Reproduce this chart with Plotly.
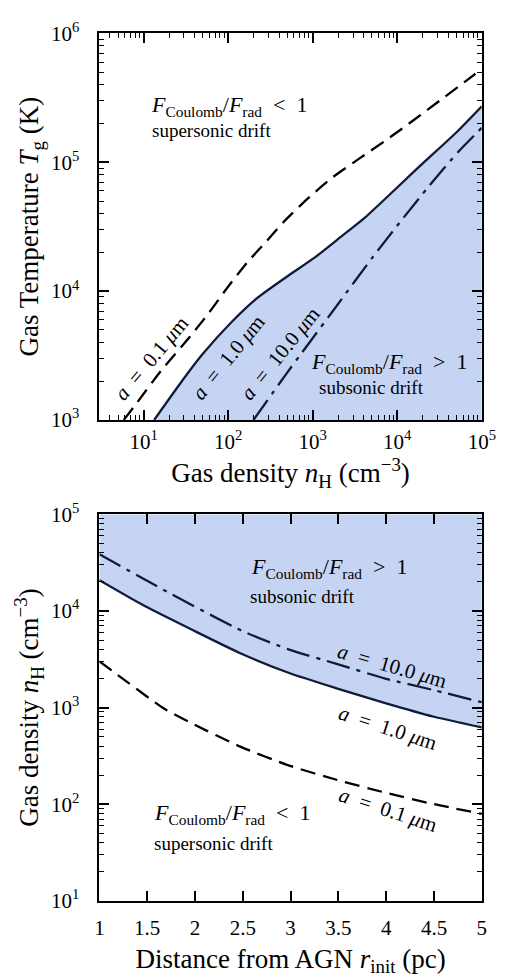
import numpy as np
import plotly.graph_objects as go

# ---------------- Data ----------------
# Top panel: gas temperature T_g (K) vs gas density n_H (cm^-3), log-log (values as log10)
top_a01_logn = [0.765, 0.92, 1.205, 1.547, 1.775, 2.003, 2.231, 2.46, 2.665, 2.927, 3.235, 3.554, 3.885, 4.2, 4.52, 4.83, 5.0]
top_a01_logT = [3.0, 3.132, 3.381, 3.645, 3.834, 4.038, 4.226, 4.392, 4.543, 4.71, 4.883, 5.03, 5.18, 5.33, 5.487, 5.64, 5.725]

top_a1_logn = [1.125, 1.433, 1.696, 2.038, 2.345, 2.722, 3.03, 3.35, 3.61, 4.26, 4.72, 5.0]
top_a1_logT = [3.0, 3.283, 3.509, 3.758, 3.947, 4.125, 4.264, 4.43, 4.566, 4.966, 5.245, 5.434]

top_a10_logn = [2.30, 2.69, 2.87, 3.30, 3.71, 4.05, 4.375, 4.72, 5.0]
top_a10_logT = [3.0, 3.36, 3.52, 3.90, 4.264, 4.55, 4.815, 5.08, 5.268]

# Bottom panel: gas density n_H (cm^-3) vs distance from AGN r_init (pc), lin-log (values as log10)
bot_r_a1 = [1.0, 1.47, 1.98, 2.48, 2.985, 3.49, 3.99, 4.50, 5.0]
bot_a1_logn = [4.318, 4.053, 3.80, 3.56, 3.358, 3.197, 3.046, 2.905, 2.795]

bot_r_a10 = [1.0, 1.64, 2.48, 2.985, 3.49, 3.99, 4.50, 5.0]
bot_a10_logn = [4.587, 4.235, 3.80, 3.60, 3.45, 3.30, 3.18, 3.056]

bot_r_a01 = [1.0, 1.30, 1.675, 1.98, 2.48, 2.985, 3.49, 3.99, 4.50, 5.0]
bot_a01_logn = [3.479, 3.258, 2.99, 2.83, 2.593, 2.40, 2.25, 2.12, 2.0, 1.90]

top_xticks = [10, 100, 1000, 10000, 100000]
top_xtext = ["10<sup>1</sup>", "10<sup>2</sup>", "10<sup>3</sup>", "10<sup>4</sup>", "10<sup>5</sup>"]
top_yticks = [1e3, 1e4, 1e5, 1e6]
top_ytext = ["10<sup>3</sup>", "10<sup>4</sup>", "10<sup>5</sup>", "10<sup>6</sup>"]
bot_yticks = [1e1, 1e2, 1e3, 1e4, 1e5]
bot_ytext = ["10<sup>1</sup>", "10<sup>2</sup>", "10<sup>3</sup>", "10<sup>4</sup>", "10<sup>5</sup>"]
bot_xticks = [1, 1.5, 2, 2.5, 3, 3.5, 4, 4.5, 5]
bot_xtext = ["1", "1.5", "2", "2.5", "3", "3.5", "4", "4.5", "5"]

def p10(v):
    return [10 ** a for a in v]

top_a01_n, top_a01_T = p10(top_a01_logn), p10(top_a01_logT)
top_a1_n, top_a1_T = p10(top_a1_logn), p10(top_a1_logT)
top_a10_n, top_a10_T = p10(top_a10_logn), p10(top_a10_logT)
bot_a1, bot_a10, bot_a01 = p10(bot_a1_logn), p10(bot_a10_logn), p10(bot_a01_logn)

def minors(lo, hi):
    return [m * 10 ** k for k in range(lo, hi) for m in range(2, 10)]

# ---------------- Style ----------------
FONT = "Liberation Serif"
NAVY = "#111a38"
FILL = "rgb(198,212,244)"
W, H = 517, 979
LW = 2.3
DASH = "15px,8px"
DASHDOT = "24px,7px,4px,7px"
SM = 0.6

fig = go.Figure()

fig.add_trace(go.Scatter(x=top_a1_n + [1e5, top_a1_n[0]], y=top_a1_T + [1e3, 1e3],
                         mode="lines", fill="toself", fillcolor=FILL, line=dict(width=0),
                         xaxis="x", yaxis="y", hoverinfo="skip", showlegend=False))
fig.add_trace(go.Scatter(x=top_a01_n, y=top_a01_T, mode="lines",
                         line=dict(color="black", width=LW, dash=DASH, shape="spline", smoothing=SM),
                         xaxis="x", yaxis="y", showlegend=False))
fig.add_trace(go.Scatter(x=top_a1_n, y=top_a1_T, mode="lines",
                         line=dict(color=NAVY, width=LW, shape="spline", smoothing=SM),
                         xaxis="x", yaxis="y", showlegend=False))
fig.add_trace(go.Scatter(x=top_a10_n, y=top_a10_T, mode="lines",
                         line=dict(color=NAVY, width=LW, dash=DASHDOT, shape="spline", smoothing=SM),
                         xaxis="x", yaxis="y", showlegend=False))

fig.add_trace(go.Scatter(x=bot_r_a1 + [5, 1], y=bot_a1 + [1e5, 1e5],
                         mode="lines", fill="toself", fillcolor=FILL, line=dict(width=0),
                         xaxis="x2", yaxis="y2", hoverinfo="skip", showlegend=False))
fig.add_trace(go.Scatter(x=bot_r_a01, y=bot_a01, mode="lines",
                         line=dict(color="black", width=LW, dash=DASH, shape="spline", smoothing=SM),
                         xaxis="x2", yaxis="y2", showlegend=False))
fig.add_trace(go.Scatter(x=bot_r_a1, y=bot_a1, mode="lines",
                         line=dict(color=NAVY, width=LW, shape="spline", smoothing=SM),
                         xaxis="x2", yaxis="y2", showlegend=False))
fig.add_trace(go.Scatter(x=bot_r_a10, y=bot_a10, mode="lines",
                         line=dict(color=NAVY, width=LW, dash=DASHDOT, shape="spline", smoothing=SM),
                         xaxis="x2", yaxis="y2", showlegend=False))

xd = [98 / W, 495 / W]
top_dom = [1 - 417 / H, 1 - 20 / H]
bot_dom = [1 - 911 / H, 1 - 514 / H]

common = dict(showgrid=False, zeroline=False, showline=True, linecolor="black", linewidth=1.8,
              mirror="ticks", ticks="inside", ticklen=10, tickwidth=1.5, tickcolor="black",
              tickfont=dict(family=FONT, size=21, color="black"),
              title_font=dict(family=FONT, size=27, color="black"))

def minor(vals):
    return dict(tickmode="array", tickvals=vals, ticks="inside", ticklen=5, tickwidth=1.3,
                tickcolor="black", showgrid=False)

fig.update_layout(
    width=W, height=H, margin=dict(l=0, r=0, t=0, b=0),
    plot_bgcolor="white", paper_bgcolor="white", showlegend=False,
    xaxis=dict(type="log", range=[np.log10(3), 5], domain=xd, anchor="y",
               tickmode="array", tickvals=top_xticks, ticktext=top_xtext, minor=minor(minors(0, 5)),
               ticklabelstandoff=2,
               title=dict(text="Gas density <i>n</i><sub>H</sub> (cm<sup>−3</sup>)", standoff=6), **common),
    yaxis=dict(type="log", range=[3, 6], domain=top_dom, anchor="x",
               tickmode="array", tickvals=top_yticks, ticktext=top_ytext, minor=minor(minors(3, 6)),
               ticklabelstandoff=14,
               title=dict(text="Gas Temperature <i>T</i><sub>g</sub> (K)", standoff=4), **common),
    xaxis2=dict(type="linear", range=[1, 5], domain=xd, anchor="y2",
                tickmode="array", tickvals=bot_xticks, ticktext=bot_xtext, ticklabelstandoff=7,
                title=dict(text="Distance from AGN <i>r</i><sub>init</sub> (pc)", standoff=10), **common),
    yaxis2=dict(type="log", range=[1, 5], domain=bot_dom, anchor="x2",
                tickmode="array", tickvals=bot_yticks, ticktext=bot_ytext, minor=minor(minors(1, 5)),
                ticklabelstandoff=14,
                title=dict(text="Gas density <i>n</i><sub>H</sub> (cm<sup>−3</sup>)", standoff=4), **common),
)

def px(xp):
    return xp / W

def py(yp):
    return 1 - yp / H

def ann(xp, yp, text, size, angle=0, xanchor="left"):
    fig.add_annotation(x=px(xp), y=py(yp), xref="paper", yref="paper", text=text, showarrow=False,
                       textangle=angle, xanchor=xanchor, yanchor="middle",
                       font=dict(family=FONT, size=size, color="black"))

lt = "<i>F</i><sub>Coulomb</sub>/<i>F</i><sub>rad</sub>&nbsp; &lt; &nbsp;1"
gt = "<i>F</i><sub>Coulomb</sub>/<i>F</i><sub>rad</sub>&nbsp; &gt; &nbsp;1"
MAIN, SMALL, LAB = 22, 19, 21
a01 = "<i>a</i>&nbsp; = &nbsp;0.1 <i>μ</i>m"
a1 = "<i>a</i>&nbsp; = &nbsp;1.0 <i>μ</i>m"
a10 = "<i>a</i>&nbsp; = &nbsp;10.0 <i>μ</i>m"

ann(150, 94, lt, MAIN)
ann(151, 120, "supersonic drift", SMALL)
ann(316, 359, gt, MAIN)
ann(324, 384, "subsonic drift", SMALL)
ann(152, 353, a01, LAB, -50, "center")
ann(232, 352, a1, LAB, -51, "center")
ann(285, 349, a10, LAB, -51, "center")

ann(253, 569, gt, MAIN)
ann(252, 598, "subsonic drift", SMALL)
ann(153, 822, lt, MAIN)
ann(153, 852, "supersonic drift", SMALL)
ann(402, 670, a10, LAB, 16, "center")
ann(398, 733, a1, LAB, 18, "center")
ann(398, 818, a01, LAB, 18, "center")

fig.write_html("out.html")
